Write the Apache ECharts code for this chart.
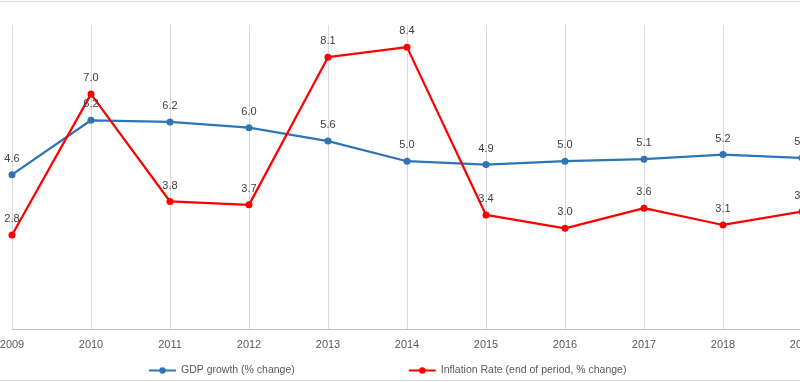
<!DOCTYPE html>
<html><head><meta charset="utf-8">
<script src="https://cdn.jsdelivr.net/npm/echarts@6/dist/echarts.min.js"></script>
<style>html,body{margin:0;padding:0;background:#fff}#c{width:800px;height:382px}</style>
</head><body><div id="c"></div>
<script>
const years = ['2009','2010','2011','2012','2013','2014','2015','2016','2017','2018','2019'];
const gdpGrowth = [4.6, 6.22, 6.17, 6.0, 5.6, 5.0, 4.9, 5.0, 5.06, 5.2, 5.1];
const inflation = [2.8, 7.0, 3.8, 3.7, 8.1, 8.4, 3.4, 3.0, 3.6, 3.1, 3.5];
const seriesNames = ['GDP growth (% change)', 'Inflation Rate (end of period, % change)'];

const chart = echarts.init(document.getElementById('c'), null, {renderer:'canvas'});
const FONT = 'Liberation Sans';
const lbl = {show:true, position:'top', distance:7, color:'#404040', fontSize:11, fontFamily:FONT,
  formatter: p => p.value.toFixed(1)};
chart.setOption({
  animation:false,
  backgroundColor:'#fff',
  grid:{left:12, right:-2, top:25, bottom:53, containLabel:false, outerBoundsMode:'none'},
  xAxis:{type:'category', data:years, boundaryGap:false,
    axisLine:{show:true, lineStyle:{color:'#bfbfbf', width:1}},
    axisTick:{show:false},
    axisLabel:{color:'#595959', fontSize:11, fontFamily:FONT, margin:10, showMinLabel:true, showMaxLabel:true},
    splitLine:{show:true, lineStyle:{color:'#d9d9d9', width:1}}},
  yAxis:{type:'value', min:0, max:9.06, show:false, splitLine:{show:false}},
  legend:{left:143, top:360, itemGap:113, itemWidth:27, itemHeight:8,
    textStyle:{color:'#595959', fontSize:10.5, fontFamily:FONT}, data:seriesNames},
  graphic:[
    {type:'line', shape:{x1:0,y1:1.5,x2:800,y2:1.5}, style:{stroke:'#d9d9d9', lineWidth:1}},
    {type:'line', shape:{x1:0,y1:380.5,x2:800,y2:380.5}, style:{stroke:'#d9d9d9', lineWidth:1}}
  ],
  series:[
    {name:seriesNames[0], type:'line', data:gdpGrowth, symbol:'circle', symbolSize:7,
     lineStyle:{color:'#2e75b6', width:2.25}, itemStyle:{color:'#2e75b6'}, label:lbl},
    {name:seriesNames[1], type:'line', data:inflation, symbol:'circle', symbolSize:7,
     lineStyle:{color:'#ff0000', width:2.25}, itemStyle:{color:'#ff0000'}, label:lbl}
  ]
});
</script></body></html>
